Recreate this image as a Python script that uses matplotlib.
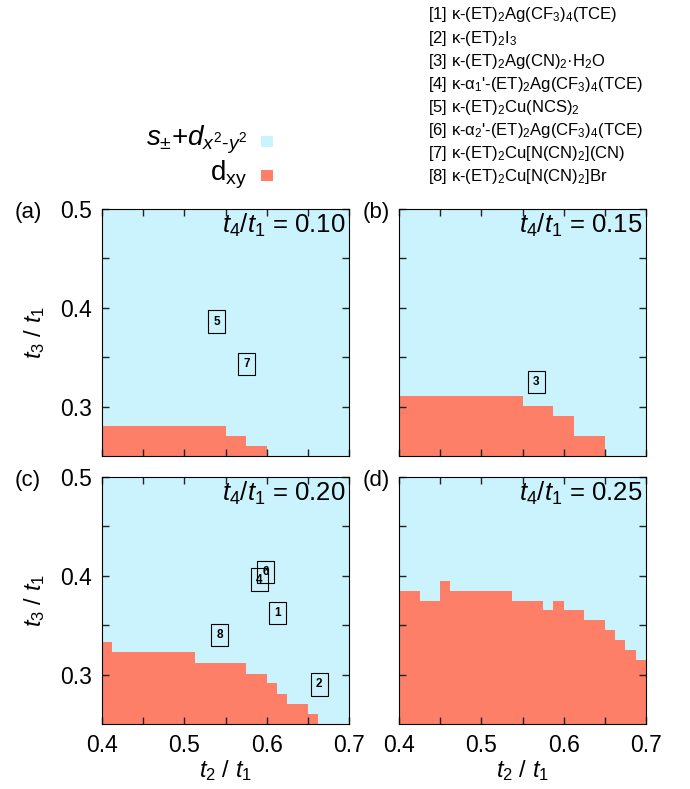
import numpy as np
import matplotlib
matplotlib.use('Agg')
import matplotlib.pyplot as plt
from matplotlib.ticker import FixedLocator

plt.rcParams['font.family'] = ['Liberation Sans', 'DejaVu Sans']
plt.rcParams['mathtext.fontset'] = 'custom'
plt.rcParams['mathtext.rm'] = 'Liberation Sans'
plt.rcParams['mathtext.it'] = 'Liberation Sans:italic'
plt.rcParams['mathtext.bf'] = 'Liberation Sans:bold'

# t2/t1 grid (left edge of each column) and width of one column
t2_left = np.linspace(0.4, 0.6875, 24)
t2_step = 0.0125

# upper boundary of the d_xy region (t3/t1) for each column, one list per panel
dxy_top_a = [0.28] * 12 + [0.27] * 2 + [0.26] * 2 + [0.25] * 8
dxy_top_b = [0.311] * 12 + [0.301] * 3 + [0.29] * 2 + [0.27] * 3 + [0.25] * 4
dxy_top_c = ([0.333] + [0.323] * 8 + [0.312] * 5 + [0.301] * 2 + [0.291, 0.28]
             + [0.27] * 2 + [0.26] + [0.25] * 3)
dxy_top_d = ([0.385] * 2 + [0.375] * 2 + [0.395] + [0.385] * 6 + [0.375] * 3
             + [0.365, 0.375] + [0.365] * 2 + [0.355] * 2 + [0.345, 0.335, 0.325, 0.315])

t4_values = ['0.10', '0.15', '0.20', '0.25']
panel_tags = ['(a)', '(b)', '(c)', '(d)']

# compounds: label, t2/t1, t3/t1, panel index
compound_ids = ['5', '7', '3', '6', '4', '1', '8', '2']
compound_t2 = [0.539, 0.576, 0.567, 0.599, 0.591, 0.613, 0.543, 0.664]
compound_t3 = [0.386, 0.343, 0.325, 0.404, 0.396, 0.3625, 0.340, 0.290]
compound_panel = [0, 0, 1, 2, 2, 2, 2, 2]

compound_names = [
    r'[1] κ-(ET)$_2$Ag(CF$_3$)$_4$(TCE)',
    r'[2] κ-(ET)$_2$I$_3$',
    r'[3] κ-(ET)$_2$Ag(CN)$_2$·H$_2$O',
    r"[4] κ-α$_1$'-(ET)$_2$Ag(CF$_3$)$_4$(TCE)",
    r'[5] κ-(ET)$_2$Cu(NCS)$_2$',
    r"[6] κ-α$_2$'-(ET)$_2$Ag(CF$_3$)$_4$(TCE)",
    r'[7] κ-(ET)$_2$Cu[N(CN)$_2$](CN)',
    r'[8] κ-(ET)$_2$Cu[N(CN)$_2$]Br',
]

cyan = '#cbf3fd'
salmon = '#fd7f67'

W, H = 690, 789
fig = plt.figure(figsize=(W / 100, H / 100), dpi=100)

ax_w, ax_h = 247 / W, 247 / H
lefts = [102 / W, 399 / W]
bottoms = [(H - 456) / H, (H - 724) / H]

tops = [dxy_top_a, dxy_top_b, dxy_top_c, dxy_top_d]
axes = []
for i in range(4):
    row, col = divmod(i, 2)
    ax = fig.add_axes([lefts[col], bottoms[row], ax_w, ax_h])
    axes.append(ax)
    ax.set_facecolor(cyan)
    ax.bar(t2_left, np.array(tops[i]) - 0.25, width=t2_step, bottom=0.25, align='edge',
           color=salmon, linewidth=0)
    ax.set_xlim(0.4, 0.7)
    ax.set_ylim(0.25, 0.5)
    ax.xaxis.set_major_locator(FixedLocator([0.4, 0.5, 0.6, 0.7]))
    ax.xaxis.set_minor_locator(FixedLocator([0.45, 0.55, 0.65]))
    ax.yaxis.set_major_locator(FixedLocator([0.3, 0.4, 0.5]))
    ax.yaxis.set_minor_locator(FixedLocator([0.35, 0.45]))
    ax.tick_params(which='both', direction='in', top=True, right=True,
                   length=5, width=1.0, color='#222222', labelsize=16.5, pad=7)
    if col == 1:
        ax.tick_params(labelleft=False)
    else:
        ax.text(-0.275, 0.5, r'$t_3$ / $t_1$', transform=ax.transAxes,
                ha='center', va='center', fontsize=17, rotation=90)
    if row == 0:
        ax.tick_params(labelbottom=False)
    else:
        ax.text(0.5, -0.19, r'$t_2$ / $t_1$', transform=ax.transAxes,
                ha='center', va='center', fontsize=17)
    ax.text(0.985, 0.935, r'$t_4$/$t_1$ = ' + t4_values[i], transform=ax.transAxes,
            ha='right', va='center', fontsize=18.5)
    tag_x = -0.352 if col == 0 else -0.147
    ax.text(tag_x, 0.985, panel_tags[i], transform=ax.transAxes,
            ha='left', va='center', fontsize=16)

for cid, x, y, p in zip(compound_ids, compound_t2, compound_t3, compound_panel):
    axes[p].text(x, y, cid, ha='center', va='center', fontsize=8.5, fontweight='bold',
                 bbox=dict(boxstyle='square,pad=0.45', fc='none', ec='black', lw=0.8))

# legend: text plus a small coloured square (tiny axes)
fig.text(247 / W, 1 - 140 / H, r'$s_{\pm}$+$d_{x^2\text{-}y^2}$', ha='right', va='center',
         fontsize=20)
fig.text(247 / W, 1 - 175 / H, r'd$_{\mathrm{xy}}$', ha='right', va='center', fontsize=20)
for y_top, c in [(135.5, cyan), (169.5, salmon)]:
    sq = fig.add_axes([261 / W, 1 - (y_top + 11.5) / H, 11.5 / W, 11.5 / H])
    sq.set_facecolor(c)
    sq.set_xticks([])
    sq.set_yticks([])
    for s in sq.spines.values():
        s.set_visible(False)

# compound list
for k, name in enumerate(compound_names):
    fig.text(428 / W, 1 - (15 + 23.1 * k) / H, name, ha='left', va='center', fontsize=12)

fig.savefig('out.png', dpi=100)
